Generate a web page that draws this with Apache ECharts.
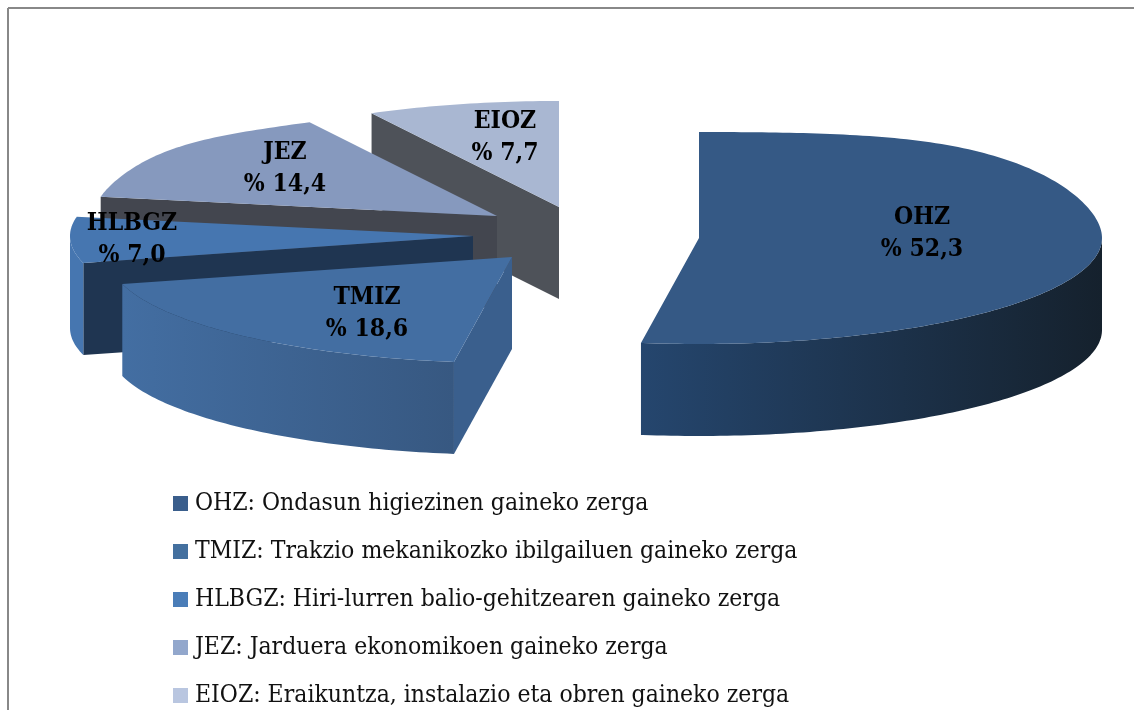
<!DOCTYPE html>
<html>
<head>
<meta charset="utf-8">
<style>
  html, body { margin: 0; padding: 0; background: #fff; }
  #main { width: 1134px; height: 710px; }
</style>
<script src="https://cdn.jsdelivr.net/npm/echarts@6/dist/echarts.min.js"></script>
</head>
<body>
<div id="main"></div>
<script>
var categories = ['OHZ', 'TMIZ', 'HLBGZ', 'JEZ', 'EIOZ'];
var legendNames = [
    'OHZ: Ondasun higiezinen gaineko zerga',
    'TMIZ: Trakzio mekanikozko ibilgailuen gaineko zerga',
    'HLBGZ: Hiri-lurren balio-gehitzearen gaineko zerga',
    'JEZ: Jarduera ekonomikoen gaineko zerga',
    'EIOZ: Eraikuntza, instalazio eta obren gaineko zerga'
];
var values = [52.3, 18.6, 7.0, 14.4, 7.7];

// layout of the exploded pie, in pixels
var radiusX = 403, radiusY = 106, depth = 92;
var centres = [[699, 238], [512, 257], [473, 236], [497, 216], [559, 207]];
var labelPos = [[922, 234], [367, 314], [132, 240], [285, 169], [505, 138]];
// the back rim is a bit fuller than a true ellipse (perspective)
var backBulge = [10, 0, 0, 4, 0];

var topColors = ['#355985', '#436ea2', '#4676b0', '#8699be', '#a9b7d2'];
var legendColors = ['#3a5e8c', '#44709f', '#4a7db8', '#92a7cc', '#b9c6e0'];
var edgeColors = ['#1d3550', '#3a5f8d', '#1f3551', '#43464f', '#4e5259'];
var sideColors = [['#25466e', '#15212d'], ['#436ea2', '#375881'], ['#4676b0', '#4676b0'], ['#43464f', '#43464f'], ['#4e5259', '#4e5259']];

var total = values.reduce(function (a, b) { return a + b; }, 0);

function point(c, deg, drop) {
    var r = deg * Math.PI / 180;
    return [c[0] + radiusX * Math.sin(r), c[1] - radiusY * Math.cos(r) + (drop || 0)];
}

function startAngle(idx) {
    var sum = 0;
    for (var i = 0; i < idx; i++) sum += values[i];
    return sum / total * 360;
}

// points along the rim between two angles
function arcPoints(c, from, to, drop) {
    var pts = [];
    for (var a = from; a < to; a += 1) pts.push(point(c, a, drop));
    pts.push(point(c, to, drop));
    return pts;
}

function backRim(c, from, to, idx) {
    var pts = arcPoints(c, from, to);
    var lo = from < 90 ? from : Math.max(from, 270);
    var hi = from < 90 ? Math.min(to, 90) : to;
    return pts.map(function (p, i) {
        var a = Math.min(from + i, to);
        if (hi <= lo || a < lo || a > hi) return p;
        var s = Math.sin(Math.PI * (a - lo) / (hi - lo));
        return [p[0], p[1] - backBulge[idx] * s * s];
    });
}

function renderSlice(idx) {
    return function (params, api) {
        var c = centres[idx];
        var a0 = startAngle(idx);
        var a1 = a0 + api.value(0) / total * 360;
        var first = point(c, a0);
        var edge = [c, first, [first[0], first[1] + depth], [c[0], c[1] + depth]];
        var lab = labelPos[idx];
        var children = [
            { type: 'polygon', shape: { points: edge }, style: { fill: edgeColors[idx] } }
        ];

        // outer wall only where the rim faces the viewer
        var lo = Math.max(a0, 90), hi = Math.min(a1, 270);
        if (lo < hi) {
            var side = arcPoints(c, lo, hi).concat(arcPoints(c, lo, hi, depth).reverse());
            children.push({
                type: 'polygon',
                shape: { points: side },
                style: {
                    fill: new echarts.graphic.LinearGradient(0, 0, 1, 0, [
                        { offset: 0, color: sideColors[idx][0] },
                        { offset: 1, color: sideColors[idx][1] }
                    ])
                }
            });
        }
        children.push({
            type: 'polygon',
            shape: { points: [c].concat(backRim(c, a0, a1, idx)) },
            style: { fill: topColors[idx] }
        });
        children.push({
            type: 'text',
            x: lab[0],
            y: lab[1],
            style: {
                text: categories[idx] + '\n% ' + values[idx].toFixed(1).replace('.', ','),
                fill: '#000',
                align: 'center',
                verticalAlign: 'middle',
                lineHeight: 32,
                font: 'bold 24.5px "DejaVu Serif Condensed", "DejaVu Serif", serif'
            }
        });
        return { type: 'group', children: children };
    };
}

var series = categories.map(function (name, i) {
    return {
        type: 'custom',
        name: legendNames[i],
        coordinateSystem: 'none',
        z: 5 - i,
        silent: true,
        itemStyle: { color: legendColors[i] },
        data: [[values[i]]],
        renderItem: renderSlice(i)
    };
});

var option = {
    animation: false,
    backgroundColor: '#fff',
    legend: {
        orient: 'vertical',
        left: 173,
        top: 491,
        icon: 'rect',
        itemWidth: 15,
        itemHeight: 15,
        itemGap: 23,
        padding: 0,
        data: legendNames,
        selectedMode: false,
        textStyle: {
            fontFamily: '"DejaVu Serif Condensed", "DejaVu Serif", serif',
            fontSize: 24.5,
            lineHeight: 24,
            color: '#111',
            padding: [0, 0, 0, 2]
        }
    },
    graphic: [
        { type: 'line', silent: true, shape: { x1: 8, y1: 8, x2: 1134, y2: 8 }, style: { stroke: '#888', lineWidth: 2 } },
        { type: 'line', silent: true, shape: { x1: 8, y1: 8, x2: 8, y2: 710 }, style: { stroke: '#888', lineWidth: 2 } }
    ],
    series: series
};

var chart = echarts.init(document.getElementById('main'));
chart.setOption(option);
</script>
</body>
</html>
